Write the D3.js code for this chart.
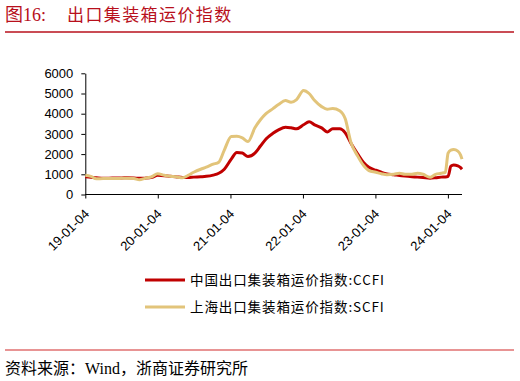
<!DOCTYPE html>
<html>
<head>
<meta charset="utf-8">
<script src="https://cdn.jsdelivr.net/npm/d3@7"></script>
<style>
body { margin: 0; background: #fff; }
</style>
</head>
<body>
<svg id="chart" width="520" height="381"></svg>
<script>
// sample dates, shared by both series
let dates = [
    "2019-01-04","2019-02-01","2019-03-01","2019-04-04","2019-05-03","2019-06-06","2019-07-05","2019-08-02","2019-09-06","2019-10-04","2019-11-01","2019-12-06",
    "2020-01-03","2020-02-07","2020-03-06","2020-04-03","2020-05-08","2020-06-05","2020-07-03","2020-08-07","2020-09-04","2020-10-09","2020-11-06","2020-12-04",
    "2021-01-08","2021-02-05","2021-03-05","2021-04-02","2021-05-07","2021-06-04","2021-07-02","2021-08-06","2021-09-03","2021-10-08","2021-11-05","2021-12-03",
    "2022-01-07","2022-02-04","2022-03-04","2022-04-08","2022-05-06","2022-06-03","2022-07-08","2022-08-05","2022-09-02","2022-10-07","2022-11-04","2022-12-02",
    "2023-01-06","2023-02-03","2023-03-03","2023-04-07","2023-05-05","2023-06-02","2023-07-07","2023-08-04","2023-09-01","2023-10-06","2023-11-03","2023-12-01",
    "2023-12-22","2024-01-05","2024-01-19","2024-02-02","2024-02-23","2024-03-08","2024-03-15"
];

let ccfi = [
    880, 850, 830, 810, 810, 820, 820, 830, 820, 800, 810, 850,
    950, 930, 900, 880, 840, 840, 860, 880, 900, 960, 1050, 1250,
    1750, 2080, 2050, 1880, 2050, 2400, 2750, 3030, 3200, 3330, 3300, 3250,
    3450, 3600, 3450, 3300, 3100, 3250, 3250, 3050, 2550, 2000, 1600, 1350,
    1200, 1100, 1020, 980, 940, 910, 880, 860, 840, 810, 830, 860,
    870, 900, 1400, 1460, 1420, 1330, 1250
];

let scfi = [
    950, 900, 780, 790, 790, 790, 800, 810, 790, 730, 800, 880,
    1030, 950, 900, 880, 830, 950, 1100, 1250, 1350, 1500, 1600, 2200,
    2870, 2880, 2800, 2620, 3300, 3700, 4000, 4250, 4450, 4650, 4570, 4700,
    5150, 5000, 4650, 4350, 4220, 4260, 4150, 3750, 2600, 1900, 1450, 1180,
    1100, 1030, 980, 1000, 1050, 1000, 1000, 1050, 1000, 850, 1000, 1050,
    1100, 2050, 2200, 2230, 2150, 1950, 1750
];

let yTicks = [0, 1000, 2000, 3000, 4000, 5000, 6000];
let xTicks = ["2019-01-04","2020-01-04","2021-01-04","2022-01-04","2023-01-04","2024-01-04"];

let seriesNames = ["中国出口集装箱运价指数:CCFI", "上海出口集装箱运价指数:SCFI"];
let seriesColors = ["#c00000", "#e2c47a"];

let parse = d3.timeParse("%Y-%m-%d");
let svg = d3.select("#chart");

// title
let titleFont = "'Liberation Serif', 'Noto Sans CJK SC'";
svg.append("text")
    .attr("x", 5)
    .attr("y", 21)
    .style("font-family", titleFont)
    .style("font-size", "18px")
    .style("fill", "#b8101c")
    .text("图16:");

svg.append("text")
    .attr("x", 67)
    .attr("y", 21)
    .style("font-family", titleFont)
    .style("font-size", "17px")
    .style("letter-spacing", "1.4px")
    .style("fill", "#b8101c")
    .text("出口集装箱运价指数");

svg.append("line")
    .attr("x1", 5).attr("x2", 514)
    .attr("y1", 32).attr("y2", 32)
    .style("stroke", "#b8101c")
    .style("stroke-width", 1.3);

let xScale = d3.scaleTime()
    .domain([parse("2019-01-04"), parse("2024-03-15")])
    .range([85.3, 462]);
let yScale = d3.scaleLinear().domain([0, 6000]).range([194.5, 73.3]);

svg.append("g")
    .attr("transform", "translate(0," + 194.5 + ")")
    .call(d3.axisBottom(xScale)
        .tickValues(xTicks.map(parse))
        .tickFormat(d3.timeFormat("%y-%m-%d"))
        .tickSize(4)
        .tickSizeOuter(0))
    .call(g => g.select(".domain").attr("d", "M85.3,0H462"))
    .call(g => g.selectAll("text")
        .attr("text-anchor", "end")
        .attr("x", 0)
        .attr("y", 0)
        .attr("dy", "0.35em")
        .attr("transform", "translate(1,17) rotate(-45)"))
    .style("font-family", "'Liberation Sans', Arial")
    .style("font-size", "13px");

svg.append("g")
    .attr("transform", "translate(" + 85.3 + ",0)")
    .call(d3.axisLeft(yScale).tickValues(yTicks).tickFormat(d3.format("d")).tickSize(4).tickPadding(8).tickSizeOuter(0))
    .style("font-family", "'Liberation Sans', Arial")
    .style("font-size", "13px");

svg.selectAll(".tick text").style("fill", "#000");

let line = d3.line()
    .x(function (d) { return xScale(d[0]); })
    .y(function (d) { return yScale(d[1]); })
    .curve(d3.curveMonotoneX);

let allSeries = [ccfi, scfi];
// CCFI first, SCFI on top
[0, 1].forEach(function (k) {
    svg.append("path")
        .datum(dates.map(function (d, i) { return [parse(d), allSeries[k][i]]; }))
        .attr("d", line)
        .style("fill", "none")
        .style("stroke", seriesColors[k])
        .style("stroke-width", 3)
        .style("stroke-linejoin", "round");
});

// legend
let legend = svg.append("g");
seriesNames.forEach(function (name, i) {
    let y = 280 + i * 27;
    legend.append("line")
        .attr("x1", 145).attr("x2", 185)
        .attr("y1", y).attr("y2", y)
        .style("stroke", seriesColors[i])
        .style("stroke-width", 3);
    legend.append("text")
        .attr("x", 190)
        .attr("y", y + 5)
        .style("font-family", "'Noto Sans CJK SC', 'Liberation Sans'")
        .style("font-size", "13.5px")
        .style("letter-spacing", "0.9px")
        .text(name);
});

// footer
svg.append("line")
    .attr("x1", 5).attr("x2", 514)
    .attr("y1", 350).attr("y2", 350)
    .style("stroke", "#e07070")
    .style("stroke-width", 1.3);

svg.append("text")
    .attr("x", 5)
    .attr("y", 374)
    .style("font-family", "'Liberation Serif', 'Noto Sans CJK SC'")
    .style("font-size", "16px")
    .text("资料来源：Wind，浙商证券研究所");
</script>
</body>
</html>
